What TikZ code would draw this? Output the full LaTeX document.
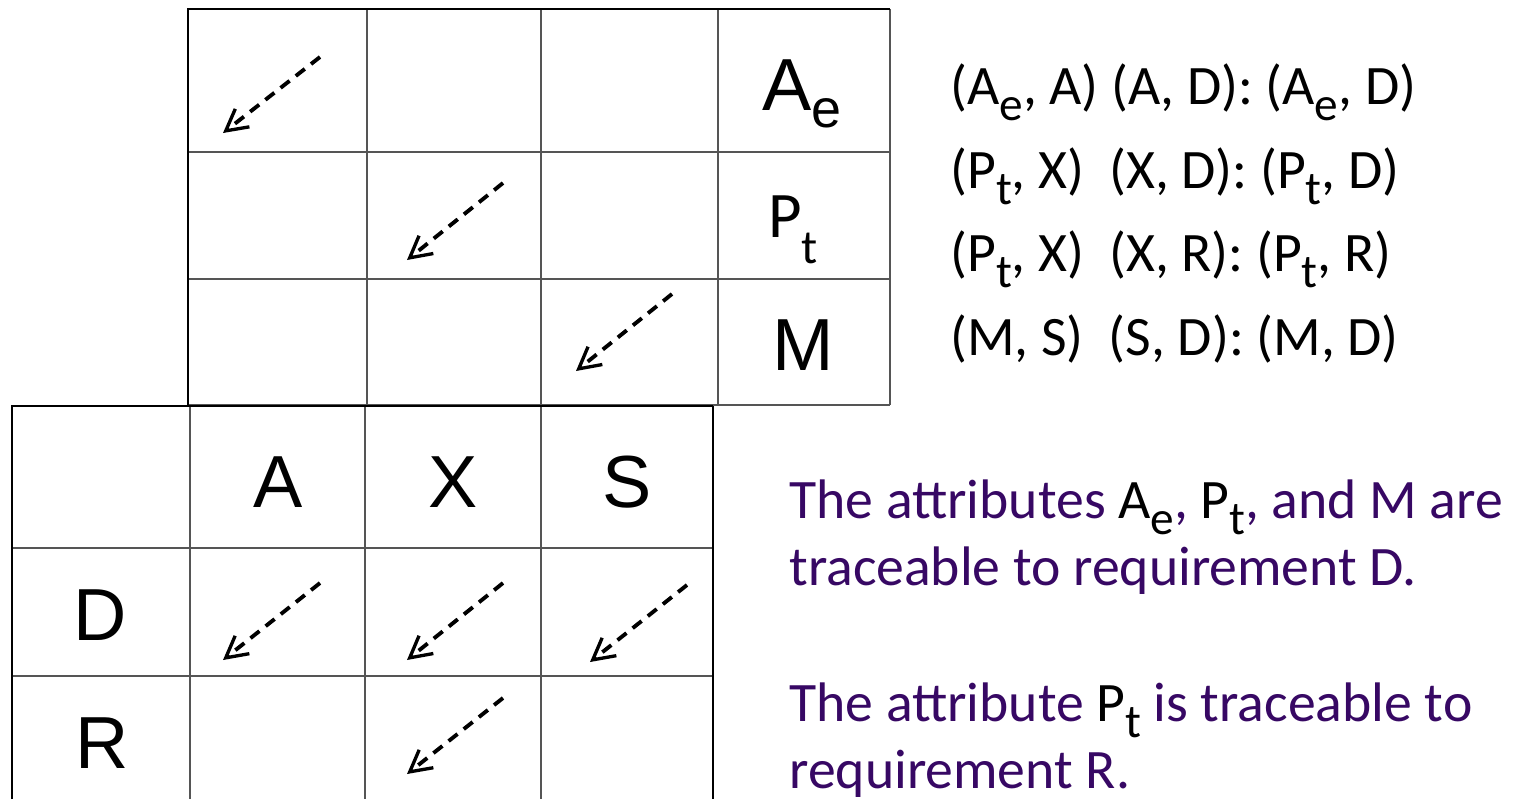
\documentclass[tikz,border=0pt]{standalone}
\usepackage{fontspec}
\setmainfont{Carlito}
\newfontfamily\arialf{Liberation Sans}
\usetikzlibrary{arrows.meta}
\definecolor{purp}{RGB}{55,8,100}
\definecolor{gline}{RGB}{85,85,85}
\newcommand{\sbc}[1]{\raisebox{-0.3em}{\scalebox{0.85}{#1}}}
\begin{document}
\begin{tikzpicture}[x=0.02cm,y=-0.02cm,
  inner/.style={draw=gline,line width=0.7pt},
  outer/.style={draw=black,line width=1.3pt},
  trace/.style={line width=2.2pt,dash pattern=on 6.5pt off 4.5pt,-{Straight Barb[length=12pt,width=13pt,line width=1.9pt]}},
  lab/.style={inner sep=0pt,font=\arialf\fontsize{42}{50}\selectfont},
  txt/.style={inner sep=0pt,anchor=base west,font=\fontsize{31.7}{38}\selectfont},
  ptxt/.style={txt,text=purp}]
\useasboundingbox (0,0) rectangle (1515,799);
\fill[white] (0,0) rectangle (1515,799);
% top grid
\draw[inner] (188,152) -- (890,152) (188,279) -- (890,279) (188,405) -- (890,405);
\draw[inner] (367,9) -- (367,405) (541,9) -- (541,405) (718,9) -- (718,405) (890,9) -- (890,405);
\draw[outer] (188,406) -- (188,9) -- (890,9);
% bottom grid
\draw[inner] (12,548) -- (713,548) (12,676) -- (713,676);
\draw[inner] (190,406) -- (190,799) (365,406) -- (365,799) (541,406) -- (541,799);
\draw[draw=black,line width=0.9pt] (713,406) -- (713,799);
\draw[outer] (12,799) -- (12,406) -- (713,406);
% arrows
\coordinate (a1s) at (320,57);  \coordinate (a1e) at (223,133);
\coordinate (a2s) at (503,183); \coordinate (a2e) at (407,260);
\coordinate (a3s) at (672,294); \coordinate (a3e) at (576,371);
\coordinate (a4s) at (320,583); \coordinate (a4e) at (223,660);
\coordinate (a5s) at (503,583); \coordinate (a5e) at (407,660);
\coordinate (a6s) at (687,585); \coordinate (a6e) at (590,662);
\coordinate (a7s) at (503,698); \coordinate (a7e) at (407,774);
\foreach \i in {1,...,7} {\draw[trace] (a\i s) -- (a\i e);}
% labels
\node[lab,anchor=base west] (ae) at (762,110) {A\raisebox{-0.24em}{\scalebox{0.73}{e}}};
\node[inner sep=0pt,anchor=base west,font=\fontsize{37}{44}\selectfont] (pt) at (768,237) {P\raisebox{-0.4em}{\scalebox{0.74}{t}}};
\node[lab,anchor=base] (m) at (803,370) {M};
\node[lab,anchor=base] (a) at (278,507) {A};
\node[lab,anchor=base] (x) at (453,507) {X};
\node[lab,anchor=base] (s) at (627,507) {S};
\node[lab,anchor=base] (d) at (100,640) {D};
\node[lab,anchor=base] (r) at (102,768) {R};
% right texts
\node[txt] (l1) at (950,104) {(A\sbc{e}, A) (A, D): (A\sbc{e}, D)};
\node[txt] (l2) at (950,188) {(P\sbc{t}, X)\ \ (X, D): (P\sbc{t}, D)};
\node[txt] (l3) at (950,271) {(P\sbc{t}, X)\ \ (X, R): (P\sbc{t}, R)};
\node[txt] (l4) at (950,355) {(M, S)\ \ (S, D): (M, D)};
\node[ptxt] (p1) at (789,518) {The attributes \textcolor{black}{A\sbc{e}}, \textcolor{black}{P\sbc{t}}, and M are};
\node[ptxt] (p2) at (789,585) {traceable to requirement D.};
\node[ptxt] (p3) at (789,721) {The attribute \textcolor{black}{P\sbc{t}} is traceable to};
\node[ptxt] (p4) at (789,788) {requirement R.};
\end{tikzpicture}
\end{document}
